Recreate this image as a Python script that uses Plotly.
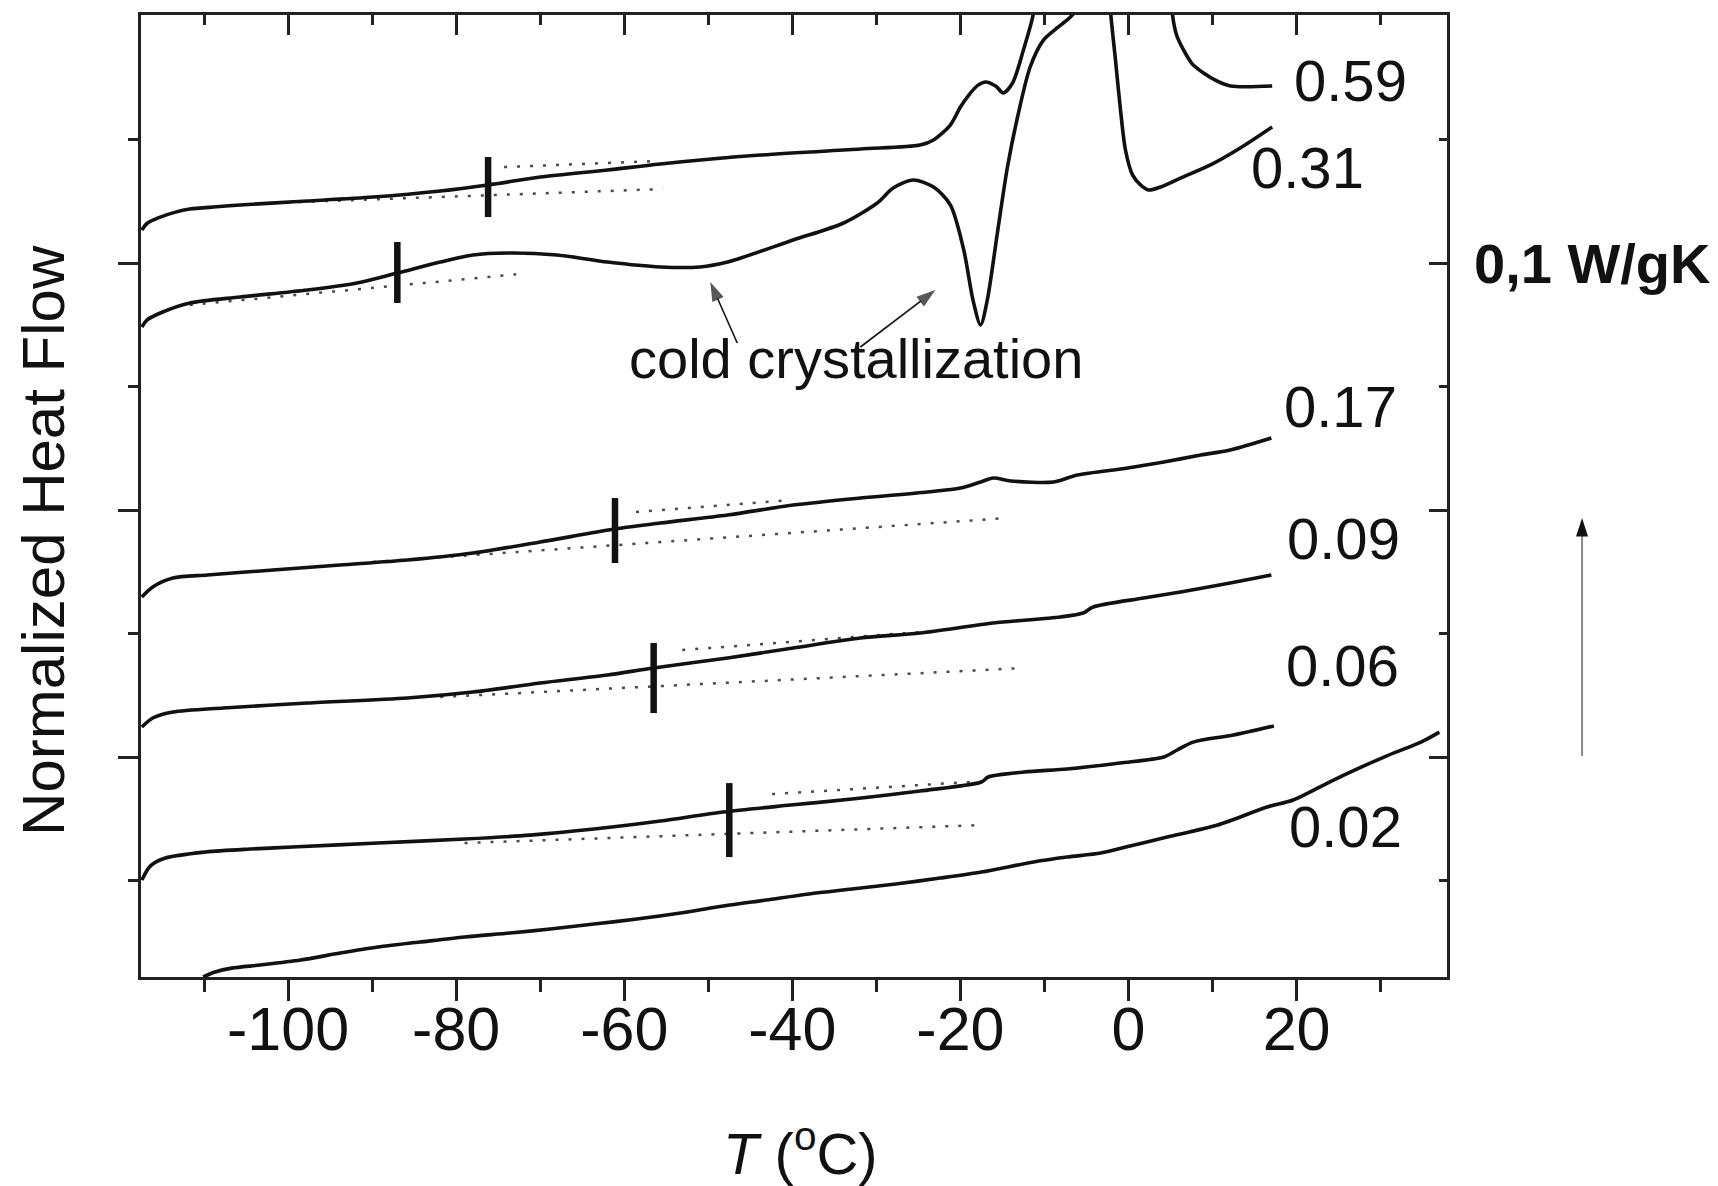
import plotly.graph_objects as go

# ---------------------------------------------------------------------------
# DSC heating traces: temperature (°C) vs normalized heat flow (curves are
# shifted vertically; one major y tick = 0.1 W/gK).  None marks where a trace
# leaves the top of the frame.
# ---------------------------------------------------------------------------
t_059 = [-117.4, -116.8, -115.2, -113.5, -111.7, -108.5, -105.7, -101.5, -97.7, -89.9,
         -81.9, -76.2, -70.0, -62.0, -55.7, -43.8, -31.9, -24.8, -23.2, -21.2,
         -20.0, -19.0, -17.9, -17.0, -15.8, -14.9, -13.8, -12.5, -11.4, -10.7,
         None, 4.9, 5.24, 5.7, 6.55, 7.6, 8.93, 10.5, 12.14, 17.1]
hf_059 = [6.267, 6.32, 6.372, 6.41, 6.437, 6.455, 6.470, 6.487, 6.502, 6.534,
          6.583, 6.632, 6.696, 6.753, 6.802, 6.874, 6.923, 6.955, 6.996, 7.117,
          7.263, 7.36, 7.44, 7.466, 7.433, 7.377, 7.457, 7.725, 7.992, 8.3,
          None, 8.3, 8.008, 7.85, 7.725, 7.61, 7.538, 7.474, 7.433, 7.433]

t_031 = [-117.4, -116.8, -115.2, -111.7, -105.7, -97.7, -91.8, -87.0, -81.9, -78.0,
         -73.9, -68.0, -62.0, -55.7, -51.0, -47.7, -39.9, -33.9, -29.9, -28.0,
         -25.6, -23.2, -21.2, -19.6, -18.5, -17.6, -16.8, -15.6, -14.4, -13.2,
         -11.7, -10.1, -8.5, -7.3, -6.5, -5.95, None, -2.26, -2.1, -1.55,
         -0.95, -0.36, 0.48, 1.43, 2.38, 3.81, 6.2, 9.76, 13.3, 17.1]
hf_031 = [5.482, 5.538, 5.595, 5.676, 5.725, 5.781, 5.838, 5.919, 6.008, 6.065,
          6.081, 6.065, 6.008, 5.968, 5.968, 6.008, 6.186, 6.324, 6.486, 6.607,
          6.672, 6.615, 6.470, 6.105, 5.700, 5.498, 5.700, 6.243, 6.777, 7.182,
          7.587, 7.806, 7.903, 7.968, 8.024, 8.17, None, 8.17, 8.008, 7.644,
          7.239, 6.915, 6.713, 6.632, 6.591, 6.615, 6.688, 6.794, 6.931, 7.101]

t_017 = [-117.4, -116.1, -113.7, -109.6, -101.8, -93.8, -85.8, -78.0, -70.0, -61.1,
         -55.7, -47.7, -39.9, -31.9, -23.9, -20.0, -17.6, -16.1, -14.0, -8.9,
         -6.1, -0.1, 4.2, 8.6, 12.1, 17.0]
hf_017 = [3.296, 3.377, 3.449, 3.474, 3.514, 3.555, 3.595, 3.652, 3.741, 3.846,
          3.895, 3.960, 4.040, 4.097, 4.146, 4.178, 4.227, 4.259, 4.235, 4.227,
          4.283, 4.340, 4.389, 4.445, 4.486, 4.583]

t_009 = [-117.4, -116.1, -113.7, -107.7, -97.7, -85.8, -78.0, -70.0, -62.0, -56.5,
         -47.7, -39.9, -31.9, -24.8, -16.1, -8.1, -5.4, -4.2, 1.8, 6.2,
         12.1, 17.0]
hf_009 = [2.243, 2.316, 2.364, 2.397, 2.437, 2.478, 2.526, 2.599, 2.664, 2.721,
          2.802, 2.883, 2.964, 3.004, 3.085, 3.134, 3.166, 3.215, 3.287, 3.336,
          3.409, 3.474]

t_006 = [-117.4, -116.4, -114.6, -109.8, -104.5, -99.5, -89.3, -79.0, -71.2, -63.6,
         -55.7, -48.2, -40.2, -32.9, -24.8, -17.5, -16.7, -12.4, -7.3, -1.0,
         4.2, 5.8, 7.7, 12.5, 17.3]
hf_006 = [1.004, 1.117, 1.182, 1.231, 1.255, 1.271, 1.304, 1.336, 1.368, 1.417,
          1.482, 1.555, 1.611, 1.660, 1.725, 1.798, 1.838, 1.879, 1.903, 1.951,
          2.000, 2.057, 2.121, 2.178, 2.251]

t_002 = [-110.1, -108.7, -106.7, -103.3, -98.5, -93.8, -89.3, -84.3, -79.0, -73.6,
         -68.8, -63.6, -58.5, -53.3, -48.2, -43.1, -38.0, -32.9, -27.7, -22.4,
         -17.5, -11.3, -7.3, -3.3, 0.2, 4.6, 10.6, 16.5, 19.6, 24.4,
         30.4, 34.8, 37.0]
hf_002 = [0.219, 0.259, 0.291, 0.316, 0.356, 0.413, 0.462, 0.502, 0.543, 0.575,
          0.607, 0.648, 0.688, 0.737, 0.794, 0.842, 0.891, 0.931, 0.972, 1.020,
          1.069, 1.150, 1.190, 1.223, 1.279, 1.352, 1.449, 1.595, 1.652, 1.814,
          2.000, 2.121, 2.202]

sample_labels = ["0.59", "0.31", "0.17", "0.09", "0.06", "0.02"]

# Glass-transition (Tg) markers: temperature and vertical extent
tg_T = [-76.2, -87.0, -61.1, -56.5, -47.5]
tg_lo = [6.372, 5.676, 3.571, 2.356, 1.190]
tg_hi = [6.858, 6.170, 4.097, 2.923, 1.789]

# Tangent (baseline) construction lines: start and end points
tan_T0 = [-101.8, -74.3, -111.7, -89.9, -58.6, -81.9, -53.1, -79.0, -42.4]
tan_H0 = [6.486, 6.777, 5.660, 3.579, 3.984, 2.486, 2.866, 1.304, 1.700]
tan_T1 = [-55.4, -56.1, -72.4, -14.5, -40.2, -12.4, -24.8, -17.4, -16.9]
tan_H1 = [6.599, 6.826, 5.911, 3.935, 4.081, 2.721, 3.012, 1.449, 1.806]

# "cold crystallization" pointers: tail and tip
ptr_T0 = [-46.55, -31.9]
ptr_H0 = [5.352, 5.320]
ptr_T1 = [-49.76, -22.98]
ptr_H1 = [5.846, 5.781]

x_major = [-100, -80, -60, -40, -20, 0, 20]
x_minor = [-110, -90, -70, -50, -30, -10, 10, 30]
y_major = [2, 4, 6]
y_minor = [1, 3, 5, 7]

X_RANGE = [-117.5, 37.9]
Y_RANGE = [0.219, 8.008]

FONT = "Liberation Sans, Arial, Helvetica, sans-serif"
INK = "#111111"
AXIS = "#222222"

fig = go.Figure()

# dotted tangent lines (drawn first so the curves sit on top)
tx, ty = [], []
for a, b, c, d in zip(tan_T0, tan_H0, tan_T1, tan_H1):
    tx += [a, c, None]
    ty += [b, d, None]
fig.add_trace(go.Scatter(x=tx, y=ty, mode="lines", hoverinfo="skip",
                         line=dict(color="#4a4a4a", width=2.5, dash="3px,10px")))

series = [(t_059, hf_059), (t_031, hf_031), (t_017, hf_017),
          (t_009, hf_009), (t_006, hf_006), (t_002, hf_002)]
for (t, h), name in zip(series, sample_labels):
    fig.add_trace(go.Scatter(x=t, y=h, mode="lines", name=name, connectgaps=False,
                             line=dict(color=INK, width=3.6, shape="spline", smoothing=0.8)))

# Tg ticks
mx, my = [], []
for t, lo, hi in zip(tg_T, tg_lo, tg_hi):
    mx += [t, t, None]
    my += [lo, hi, None]
fig.add_trace(go.Scatter(x=mx, y=my, mode="lines", hoverinfo="skip",
                         line=dict(color=INK, width=6.5)))

# pointer arrows: thin shaft with an arrowhead marker oriented along it
for a, b, c, d in zip(ptr_T0, ptr_H0, ptr_T1, ptr_H1):
    fig.add_trace(go.Scatter(x=[a, c], y=[b, d], mode="lines+markers", hoverinfo="skip",
                             line=dict(color=INK, width=1.6),
                             marker=dict(symbol="arrow", size=[0, 20], color=INK,
                                         angleref="previous", line=dict(width=0))))

# invisible trace that carries the mirrored (top / right) axes
fig.add_trace(go.Scatter(x=[X_RANGE[0]], y=[Y_RANGE[0]], xaxis="x2", yaxis="y2",
                         mode="markers", marker=dict(opacity=0), hoverinfo="skip"))

# curve labels (left edge, vertical centre) in data units
label_pos = [(19.5, 7.48), (14.3, 6.77), (18.3, 4.84), (18.6, 3.77), (18.5, 2.74), (18.9, 1.44)]
annotations = []
for text, (lx, ly) in zip(sample_labels, label_pos):
    annotations.append(dict(x=lx, y=ly, xref="x", yref="y", text=text, showarrow=False,
                            xanchor="left", yanchor="middle",
                            font=dict(family=FONT, size=58, color=INK)))

annotations.append(dict(x=-32.4, y=5.23, xref="x", yref="y", text="cold crystallization",
                        showarrow=False, xanchor="center", yanchor="middle",
                        font=dict(family=FONT, size=56, color=INK)))

# scale bar text at the right (anchored on its right edge)
annotations.append(dict(x=1.2029, y=6.0, xref="paper", yref="y", text="<b>0,1 W/gK</b>",
                        showarrow=False, xanchor="right", yanchor="middle",
                        font=dict(family=FONT, size=56, color=INK)))

# axis titles
annotations.append(dict(x=0.5046, y=-0.1798, xref="paper", yref="paper",
                        text="<i>T</i> (<sup>o</sup>C)", showarrow=False,
                        xanchor="center", yanchor="middle",
                        font=dict(family=FONT, size=58, color=INK)))
annotations.append(dict(x=-0.0743, y=0.4543, xref="paper", yref="paper",
                        text="Normalized Heat Flow", textangle=-90, showarrow=False,
                        xanchor="center", yanchor="middle",
                        font=dict(family=FONT, size=60, color=INK)))

# heat-flow direction arrow at the right: grey shaft, black head
shapes = [
    dict(type="line", xref="paper", yref="paper", x0=1.1034, x1=1.1034,
         y0=0.2297, y1=0.462, line=dict(color="#8a8a8a", width=2)),
    dict(type="path", xref="paper", yref="paper",
         path="M 1.0988 0.4580 L 1.1034 0.4771 L 1.1080 0.4580 Z",
         fillcolor=INK, line=dict(width=0)),
]

common_x = dict(range=X_RANGE, showgrid=False, zeroline=False, showline=True,
                linewidth=2.5, linecolor=AXIS, tickmode="array", tickvals=x_major,
                tickwidth=2.5, tickcolor=AXIS)
common_y = dict(range=Y_RANGE, showgrid=False, zeroline=False, showline=True,
                linewidth=2.5, linecolor=AXIS, tickmode="array", tickvals=y_major,
                tickwidth=2.5, tickcolor=AXIS, showticklabels=False)

fig.update_layout(
    width=1718, height=1186,
    margin=dict(l=141, r=271, t=15, b=209, pad=0),
    paper_bgcolor="white", plot_bgcolor="white",
    showlegend=False,
    annotations=annotations,
    shapes=shapes,
    xaxis=dict(**common_x, ticks="outside", ticklen=21,
               ticktext=[str(v) for v in x_major], ticklabelstandoff=-24,
               tickfont=dict(family=FONT, size=61, color=INK),
               minor=dict(tickmode="array", tickvals=x_minor, ticks="outside",
                          ticklen=12, tickwidth=2.5, tickcolor=AXIS, showgrid=False)),
    xaxis2=dict(**common_x, overlaying="x", side="top", anchor="y2", ticks="inside",
                ticklen=20, showticklabels=False,
                minor=dict(tickmode="array", tickvals=x_minor, ticks="inside",
                           ticklen=10, tickwidth=2.5, tickcolor=AXIS, showgrid=False)),
    yaxis=dict(**common_y, ticks="outside", ticklen=20,
               minor=dict(tickmode="array", tickvals=y_minor, ticks="outside",
                          ticklen=10, tickwidth=2.5, tickcolor=AXIS, showgrid=False)),
    yaxis2=dict(**common_y, overlaying="y", side="right", anchor="x2", ticks="inside",
                ticklen=18, minor=dict(tickmode="array", tickvals=y_minor, ticks="inside",
                                       ticklen=8, tickwidth=2.5, tickcolor=AXIS,
                                       showgrid=False)),
)

fig.write_html("out.html")
